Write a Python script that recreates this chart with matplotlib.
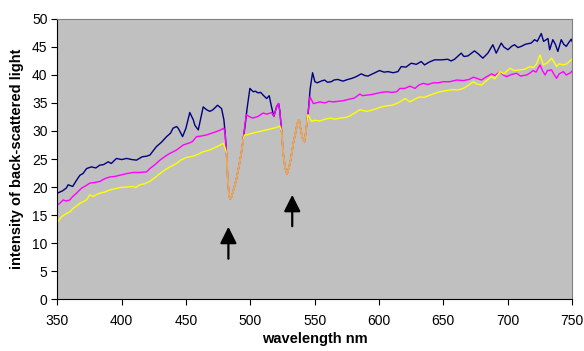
import numpy as np
import matplotlib
matplotlib.use("Agg")
from matplotlib import pyplot as plt

plt.rcParams['font.family'] = ['Liberation Sans', 'DejaVu Sans']

# wavelength / intensity pairs, one list per stretch of curve
navy_left = [(350, 18.9), (354, 19.3), (357, 19.8), (358.5, 20.4), (362, 20.1), (365, 21.2), (367.6, 22.1),
             (370, 22.4), (372.8, 23.3), (376.7, 23.6), (380, 23.4), (383, 23.9), (386, 24.0), (389.6, 24.5),
             (392, 24.2), (396, 25.1), (400, 24.9), (404, 25.1), (408, 24.9), (411.6, 24.8), (416, 25.4),
             (419.4, 25.5), (422, 25.7), (427, 27.2), (431, 28.0), (435, 29.0), (438, 29.6), (440, 30.5),
             (442.7, 30.8), (444, 30.5), (447.4, 29.0), (450, 30.5), (453, 33.3), (455.7, 32.0), (457, 31.0),
             (459.6, 30.2), (463.4, 34.3), (466, 33.8), (468.6, 33.5), (471, 33.8), (474.6, 34.6),
             (477.7, 34.0), (479.5, 32.0), (480.5, 29.5)]
pink_left = [(350, 16.8), (352, 17.1), (354.7, 17.7), (357, 17.5), (359.8, 17.7), (362, 18.3), (365, 18.9),
             (368.9, 19.8), (372, 20.2), (375.4, 20.7), (379, 20.8), (383.2, 21.0), (387, 21.5), (391, 21.8),
             (395, 21.9), (398.7, 22.1), (404, 22.4), (409, 22.6), (414, 22.6), (419.4, 22.7), (422, 23.3),
             (426, 24.0), (429.8, 24.8), (434, 25.5), (437.5, 26.0), (442.7, 26.6), (447.9, 27.5), (453, 27.9),
             (455, 28.1), (458.3, 29.0), (462, 29.1), (466, 29.3), (470, 29.6), (473.8, 29.9), (477, 30.2),
             (479.5, 30.5), (480.5, 29.5)]
yellow_left = [(350, 13.6), (351.5, 14.2), (353.4, 14.7), (357.3, 15.3), (360, 15.6), (362.4, 16.2), (365, 16.6),
               (367.6, 17.1), (372.8, 17.7), (375.4, 18.6), (378, 18.3), (380, 18.6), (383.2, 18.9), (387, 19.1),
               (391, 19.5), (395, 19.7), (398.7, 19.9), (404, 20.0), (409, 20.1), (411, 19.9), (414.2, 20.4),
               (418, 20.6), (422, 21.0), (426, 21.7), (429.8, 22.4), (434, 23.1), (437.5, 23.6), (442.7, 24.2),
               (446, 24.8), (450.5, 25.3), (455.7, 25.5), (460, 25.9), (463.4, 26.3), (467, 26.5), (471.2, 26.9),
               (475, 27.3), (479, 27.8), (480.5, 27.0)]

# absorption dips, same for all three curves
dip1 = [(481.5, 26.0), (482.5, 21.5), (483.5, 18.5), (484.3, 17.9), (485.5, 18.3), (487, 19.5), (489, 21.2),
        (491, 23.5), (493, 26.0), (494.5, 28.5)]
dip2 = [(524.3, 30.0), (525.6, 26.0), (527, 23.5), (528.5, 22.3), (530, 23.4), (531.5, 25.0), (533.4, 27.8),
        (535, 29.5), (536.5, 31.3), (538, 32.0), (539, 30.5), (540.5, 28.8), (542, 28.1), (543, 29.5), (544, 31.5)]

navy_mid = [(496, 31.0), (497.5, 34.0), (499.7, 37.6), (502.3, 37.0), (504, 37.1), (506, 36.8), (508, 36.9),
            (510, 36.4), (512.7, 35.8), (514.7, 36.3), (516.5, 34.3)]
pink_mid = [(496, 31.5), (497, 32.9), (499, 32.6), (502, 32.3), (506, 32.6), (510, 33.2), (513, 33.0),
            (516.5, 33.3)]
navy_pink_mid = [(518.3, 32.6), (520.4, 34.3), (522, 34.9), (523, 33.5)]
yellow_mid = [(495.5, 29.3), (497, 29.3), (500, 29.5), (505, 29.8), (509, 30.0), (512.7, 30.2), (516, 30.4),
              (520, 30.6), (523, 30.9)]

navy_right = [(545, 33.2), (546.5, 37.5), (548.4, 40.4), (550.2, 38.8), (552, 38.6), (555, 38.9), (557.7, 39.1),
              (560, 38.7), (562.9, 38.8), (565, 39.1), (568, 39.2), (572, 38.9), (575.8, 39.2), (579, 39.4),
              (582.3, 39.7), (586.2, 40.2), (589, 39.9), (591.4, 39.8), (595, 40.2), (600.5, 40.8), (604, 40.5),
              (607, 40.6), (611, 40.4), (614.7, 40.6), (617.3, 41.5), (621, 41.4), (625, 42.1), (629, 41.9),
              (632.8, 42.4), (635.4, 41.8), (639, 42.3), (643.2, 42.7), (648.4, 42.7), (653.5, 42.8), (656, 42.5),
              (658.7, 42.8), (663.9, 43.9), (666, 43.3), (669.1, 43.4), (674.2, 44.3), (677, 43.8), (680.7, 43.0),
              (684.6, 43.9), (688.5, 45.4), (691.1, 43.9), (695, 45.7), (697, 45.0), (700.2, 44.5), (703, 45.1),
              (705.3, 45.4), (708, 44.9), (710.5, 45.1), (714, 45.5), (718.3, 45.7), (720.9, 46.3), (723, 46.0),
              (726.1, 47.4), (727.9, 46.0), (731.3, 46.5), (732.6, 44.5), (735.1, 46.3), (737, 45.5), (739, 44.2),
              (741.6, 46.3), (743.5, 45.5), (745.5, 45.1), (747.5, 45.8), (749.4, 46.4), (750, 46.0)]
pink_right = [(545, 33.5), (546.4, 36.1), (549, 34.9), (551, 35.0), (554.2, 35.2), (558, 35.0), (561, 35.3),
              (564.5, 35.2), (568, 35.3), (572, 35.4), (577.5, 35.7), (581, 35.9), (585.2, 36.6), (587, 36.3),
              (590.4, 36.4), (594, 36.5), (598.2, 36.7), (602, 36.9), (606, 37.0), (610, 36.9), (613.7, 37.0),
              (616.3, 37.6), (620, 37.6), (624.1, 38.0), (628, 37.6), (631, 38.2), (634.4, 38.5), (638, 38.3),
              (642.2, 38.6), (646, 38.6), (650, 38.8), (655, 38.8), (660.3, 39.1), (665.5, 39.0), (670, 39.2),
              (673.3, 39.6), (676, 39.4), (679.7, 39.1), (683, 39.6), (687.5, 40.2), (690, 39.9), (694, 40.6),
              (696.5, 40.0), (699.2, 39.7), (703, 40.1), (706.9, 40.3), (710, 39.8), (714.7, 40.0), (717, 40.3),
              (719.9, 40.8), (722, 40.5), (725.1, 41.8), (727, 40.8), (729, 40.0), (731, 40.8), (734.1, 40.9),
              (736, 40.1), (738, 39.4), (740, 40.2), (743.2, 40.6), (745.5, 40.0), (748.9, 40.4), (750, 40.7)]
yellow_right = [(544.8, 32.9), (547.6, 31.7), (550, 31.9), (554.2, 31.8), (558, 32.1), (562, 32.3), (566, 32.1),
                (569.7, 32.3), (574, 32.4), (577.5, 32.7), (581, 33.2), (585.2, 33.8), (590.4, 33.5), (594, 33.7),
                (598.2, 34.0), (602, 34.3), (606, 34.5), (610, 34.6), (613.7, 34.9), (617, 35.3), (620.2, 35.8),
                (624.1, 35.2), (628, 35.7), (631.9, 36.1), (635, 36.0), (639.6, 36.4), (643, 36.7), (647.4, 37.0),
                (652, 37.2), (657.7, 37.4), (661, 37.3), (665.5, 37.6), (669, 38.1), (673.3, 38.8), (676, 38.4),
                (679.7, 38.2), (683, 38.9), (687.5, 39.7), (690, 39.3), (694, 40.6), (697, 40.2), (701.8, 41.2),
                (705, 40.8), (709.5, 40.9), (713, 41.0), (717.3, 41.5), (720, 41.3), (722.5, 42.0), (725.1, 43.6),
                (727.7, 41.8), (731, 42.2), (734.1, 43.0), (736, 42.3), (738, 41.5), (740, 42.0), (743.2, 41.8),
                (746, 42.0), (748.9, 42.6), (750, 42.8)]

navy = navy_left + dip1 + navy_mid + navy_pink_mid + dip2 + navy_right
pink = pink_left + dip1 + pink_mid + navy_pink_mid + dip2 + pink_right
yellow = yellow_left + dip1 + yellow_mid + dip2 + yellow_right

# arrows marking the dips: (wavelength, tail, tip)
arrows = [(483, 7.2, 12.9), (532.6, 13.0, 18.6)]

fig = plt.figure(figsize=(5.84, 3.51), dpi=100)
ax = fig.add_axes([0.098, 0.148, 0.8815, 0.798])
ax.set_facecolor('#C0C0C0')

for data, col in [(navy, '#000080'), (pink, '#FF00FF'), (yellow, '#FFFF00')]:
    d = np.array(data)
    ax.plot(d[:, 0], d[:, 1], color=col, lw=1.0)
for data in [dip1, dip2]:
    d = np.array(data)
    ax.plot(d[:, 0], d[:, 1], color='#E9A65A', lw=1.1)

for x, tail, tip in arrows:
    ax.annotate('', xy=(x, tip), xytext=(x, tail),
                arrowprops=dict(arrowstyle='-|>,head_length=1.0,head_width=0.5', color='black',
                                lw=1.6, shrinkA=0, shrinkB=0))

ax.set_xlim(350, 750)
ax.set_ylim(0, 50)
ax.set_xticks(np.arange(350, 751, 50))
ax.set_yticks(np.arange(0, 51, 5))
ax.tick_params(axis='x', length=4, width=0.8, pad=7, labelsize=10, colors='black')
ax.tick_params(axis='y', length=4, width=0.8, pad=3, labelsize=10, colors='black')
for s in ['top', 'right']:
    ax.spines[s].set_color('#808080')
    ax.spines[s].set_linewidth(0.8)
for s in ['left', 'bottom']:
    ax.spines[s].set_color('black')
    ax.spines[s].set_linewidth(0.8)

ax.set_xlabel('wavelength nm', fontsize=10.5, fontweight='bold', labelpad=3)
ax.set_ylabel('intensity of back-scattered light', fontsize=10.5, fontweight='bold', labelpad=6)

plt.savefig('out.png', dpi=100)
